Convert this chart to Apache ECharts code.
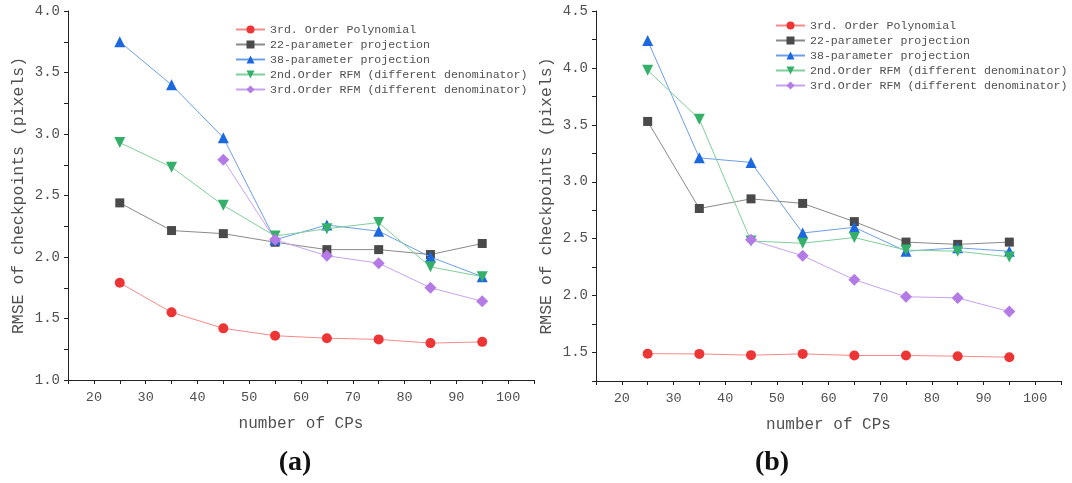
<!DOCTYPE html>
<html>
<head>
<meta charset="utf-8">
<script src="https://cdn.jsdelivr.net/npm/echarts@6/dist/echarts.min.js"></script>
<style>
  html, body { margin: 0; padding: 0; background: #fff; }
  #main { width: 1072px; height: 483px; }
</style>
</head>
<body>
<div id="main"></div>
<script>
// number of CPs
const cps = [25, 35, 45, 55, 65, 75, 85, 95];
const seriesNames = [
  '3rd. Order Polynomial',
  '22-parameter projection',
  '38-parameter projection',
  '2nd.Order RFM (different denominator)',
  '3rd.Order RFM (different denominator)'
];

// (a)
const polyA   = [1.79, 1.55, 1.42, 1.36, 1.34, 1.33, 1.30, 1.31];
const proj22A = [2.44, 2.215, 2.19, 2.12, 2.06, 2.06, 2.02, 2.11];
const proj38A = [3.75, 3.40, 2.97, 2.14, 2.26, 2.21, 2.00, 1.84];
const rfm2A   = [2.93, 2.73, 2.42, 2.17, 2.23, 2.28, 1.92, 1.84];
const rfm3A   = [null, null, 2.79, 2.14, 2.01, 1.95, 1.75, 1.64];

// (b)
const polyB   = [1.49, 1.488, 1.477, 1.488, 1.474, 1.474, 1.468, 1.459];
const proj22B = [3.53, 2.765, 2.85, 2.81, 2.65, 2.47, 2.45, 2.47];
const proj38B = [4.24, 3.21, 3.17, 2.55, 2.60, 2.39, 2.42, 2.39];
const rfm2B   = [3.98, 3.55, 2.48, 2.46, 2.51, 2.40, 2.39, 2.34];
const rfm3B   = [null, null, 2.49, 2.35, 2.14, 1.99, 1.98, 1.86];

const markerColors = ['#ee3535', '#4a4a4a', '#1c68de', '#34b06a', '#b47ae6'];
const lineColors   = ['#f58a8a', '#8a8a8a', '#6d9ee8', '#7fcf9a', '#c9a2ee'];
const symbols      = ['circle', 'rect', 'triangle', 'path://M0,0 L10,0 L5,9 Z', 'diamond'];
const symbolSizes  = [10, 9, 11, 11, 12];

const mono = 'Liberation Mono';
const labelColor = '#505050';

function xAxisFor(idx) {
  return {
    gridIndex: idx,
    type: 'value',
    min: 15,
    max: 105,
    interval: 5,
    name: 'number of CPs',
    nameLocation: 'middle',
    nameGap: 36,
    nameTextStyle: { fontFamily: mono, fontSize: 16, color: labelColor },
    axisLine: { show: true, lineStyle: { color: '#222', width: 1 } },
    axisTick: { show: true, length: 4, inside: false, lineStyle: { color: '#222' } },
    axisLabel: {
      fontFamily: mono, fontSize: 13.5, color: labelColor, margin: 10,
      formatter: v => (v % 10 === 0 ? String(v) : '')
    },
    splitLine: { show: false }
  };
}

function yAxisFor(idx, min, max) {
  return {
    gridIndex: idx,
    type: 'value',
    min: min,
    max: max,
    interval: 0.25,
    name: 'RMSE of checkpoints (pixels)',
    nameLocation: 'middle',
    nameGap: 41,
    nameTextStyle: { fontFamily: mono, fontSize: 16.5, color: labelColor },
    axisLine: { show: true, lineStyle: { color: '#222', width: 1 } },
    axisTick: { show: true, length: 4, lineStyle: { color: '#222' } },
    axisLabel: {
      fontFamily: mono, fontSize: 14, color: labelColor, margin: 8,
      formatter: v => (Math.abs(v * 2 - Math.round(v * 2)) < 1e-6 ? v.toFixed(1) : '')
    },
    splitLine: { show: false }
  };
}

function makeSeries(idx, arrays) {
  return arrays.map((arr, i) => ({
    name: seriesNames[i],
    type: 'line',
    xAxisIndex: idx,
    yAxisIndex: idx,
    data: cps.map((x, j) => [x, arr[j]]),
    symbol: symbols[i],
    symbolSize: symbolSizes[i],
    showAllSymbol: true,
    connectNulls: false,
    itemStyle: { color: markerColors[i] },
    lineStyle: { color: lineColors[i], width: 1 },
    emphasis: { disabled: true },
    z: 2 + i
  }));
}

function legendFor(left, top) {
  return {
    orient: 'vertical',
    left: left,
    top: top,
    itemWidth: 29,
    itemHeight: 10,
    itemGap: 2,
    data: seriesNames,
    textStyle: { fontFamily: mono, fontSize: 11.6, lineHeight: 13, color: labelColor }
  };
}

const chart = echarts.init(document.getElementById('main'));
chart.setOption({
  backgroundColor: '#fff',
  animation: false,
  legend: [legendFor(230, 18), legendFor(770, 14)],
  grid: [
    { left: 68, top: 11, width: 466, height: 369 },
    { left: 596, top: 11, width: 465, height: 370 }
  ],
  xAxis: [xAxisFor(0), xAxisFor(1)],
  yAxis: [yAxisFor(0, 1.0, 4.0), yAxisFor(1, 1.25, 4.5)],
  series: makeSeries(0, [polyA, proj22A, proj38A, rfm2A, rfm3A])
    .concat(makeSeries(1, [polyB, proj22B, proj38B, rfm2B, rfm3B])),
  graphic: [
    { type: 'text', x: 295, y: 463, style: { text: '(a)', font: 'bold 28px "Liberation Serif"', fill: '#111', align: 'center', verticalAlign: 'middle' } },
    { type: 'text', x: 772, y: 463, style: { text: '(b)', font: 'bold 28px "Liberation Serif"', fill: '#111', align: 'center', verticalAlign: 'middle' } }
  ]
});
</script>
</body>
</html>
